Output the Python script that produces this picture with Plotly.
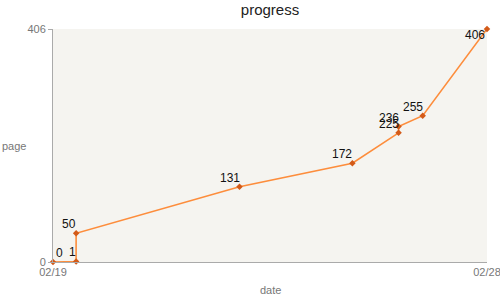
import plotly.graph_objects as go

dates = ["2019-02-19 00:00", "2019-02-19 11:30", "2019-02-19 11:30",
         "2019-02-22 20:50", "2019-02-25 05:00", "2019-02-26 04:00",
         "2019-02-26 04:00", "2019-02-26 16:00", "2019-02-28 00:00"]
pages = [0, 1, 50, 131, 172, 225, 236, 255, 406]
x_ticks = ["2019-02-19", "2019-02-28"]
x_ticktext = ["02/19", "02/28"]
y_ticks = [0, 406]

FONT = "Liberation Sans, Arial"

fig = go.Figure()
fig.add_trace(go.Scatter(
    x=dates, y=pages, mode="lines+markers",
    line=dict(color="#fd8d3c", width=1.6),
    marker=dict(symbol="diamond", size=5, color="#d35a18"),
    cliponaxis=False, showlegend=False, hoverinfo="x+y",
))

n = len(pages)
for i, (d, p) in enumerate(zip(dates, pages)):
    if i == 0:
        xa, ya, xs, ys = "left", "bottom", 1, 0
    elif i == n - 1:
        xa, ya, xs, ys = "right", "top", 0, 3
    else:
        xa, ya, xs, ys = "right", "bottom", 2, 0
    fig.add_annotation(x=d, y=p, text=str(p), showarrow=False,
                       xanchor=xa, yanchor=ya, xshift=xs, yshift=ys,
                       font=dict(family=FONT, size=12, color="#111"))

fig.update_layout(
    width=500, height=300,
    margin=dict(l=53, r=13, t=29, b=38, autoexpand=False),
    paper_bgcolor="white", plot_bgcolor="#f5f4f0",
    title=dict(text="progress", x=0.54, xanchor="center", y=0.985, yanchor="top",
               font=dict(family=FONT, size=15, color="#222")),
    xaxis=dict(type="date", range=["2019-02-19", "2019-02-28 00:00:05"],
               tickvals=x_ticks, ticktext=x_ticktext, automargin=False,
               ticklabeloverflow="allow",
               showgrid=False, zeroline=False, showline=True,
               linecolor="#aaa", linewidth=1, ticks="",
               tickfont=dict(family=FONT, size=11, color="#777")),
    yaxis=dict(range=[0, 406], tickvals=y_ticks, automargin=False,
               showgrid=False, zeroline=False, showline=True,
               linecolor="#aaa", linewidth=1, ticks="outside", ticklen=4, tickcolor="#aaa",
               tickfont=dict(family=FONT, size=11, color="#777")),
)
fig.add_annotation(text="page", xref="paper", yref="paper", x=-0.09, y=0.5,
                   xanchor="center", yanchor="middle", showarrow=False,
                   font=dict(family=FONT, size=11, color="#777"))
fig.add_annotation(text="date", xref="paper", yref="paper", x=0.5, y=-0.12,
                   xanchor="center", yanchor="middle", showarrow=False,
                   font=dict(family=FONT, size=11, color="#777"))
fig.write_html("out.html")
